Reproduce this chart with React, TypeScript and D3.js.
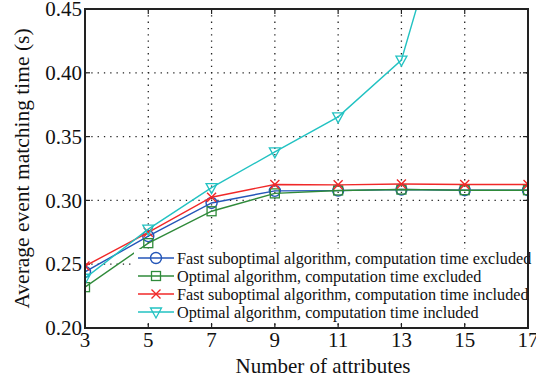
import * as d3 from "d3";

const attributes = [3, 5, 7, 9, 11, 13, 15, 17];
const fastExcluded = [0.244, 0.272, 0.298, 0.3075, 0.3077, 0.3085, 0.308, 0.308];
const optimalExcluded = [0.232, 0.2665, 0.2915, 0.3055, 0.3078, 0.3085, 0.308, 0.308];
const fastIncluded = [0.2485, 0.275, 0.3025, 0.3125, 0.3122, 0.3128, 0.3125, 0.3125];
const optimalIncluded = [0.239, 0.2775, 0.31, 0.338, 0.3655, 0.41, 0.58, 0.78];
const yTicks = [0.2, 0.25, 0.3, 0.35, 0.4, 0.45];
const seriesNames = [
  "Fast suboptimal algorithm, computation time excluded",
  "Optimal algorithm, computation time excluded",
  "Fast suboptimal algorithm, computation time included",
  "Optimal algorithm, computation time included",
];

type Marker = "circle" | "square" | "cross" | "triangle";

const series = [
  { name: seriesNames[0], values: fastExcluded, color: "#2456b8", marker: "circle" as Marker },
  { name: seriesNames[1], values: optimalExcluded, color: "#2f8a3a", marker: "square" as Marker },
  { name: seriesNames[2], values: fastIncluded, color: "#f02828", marker: "cross" as Marker },
  { name: seriesNames[3], values: optimalIncluded, color: "#22c2c2", marker: "triangle" as Marker },
];

const width = 536;
const height = 380;
const margin = { top: 9, right: 8, bottom: 52, left: 85 };
const innerWidth = width - margin.left - margin.right;
const innerHeight = height - margin.top - margin.bottom;
const serif = { fontFamily: '"Liberation Serif", "Times New Roman", serif' };

const MarkerShape = ({ kind, x, y, color }: { kind: Marker; x: number; y: number; color: string }) => {
  if (kind === "circle") {
    return <circle cx={x} cy={y} r={5.5} fill="none" stroke={color} strokeWidth={1.4} />;
  }
  if (kind === "square") {
    return <rect x={x - 4.5} y={y - 4.5} width={9} height={9} fill="none" stroke={color} strokeWidth={1.3} />;
  }
  if (kind === "cross") {
    return (
      <path d={`M${x - 4.5},${y - 4.5}L${x + 4.5},${y + 4.5}M${x - 4.5},${y + 4.5}L${x + 4.5},${y - 4.5}`} stroke={color} strokeWidth={1.4} />
    );
  }
  return (
    <path d={`M${x - 5.5},${y - 4}L${x + 5.5},${y - 4}L${x},${y + 6}Z`} fill="none" stroke={color} strokeWidth={1.3} />
  );
};

export default function App() {
  const x = d3.scaleLinear().domain([3, 17]).range([0, innerWidth]);
  const y = d3.scaleLinear().domain([0.2, 0.45]).range([innerHeight, 0]);
  const line = d3
    .line<number>()
    .x((_, i) => x(attributes[i]))
    .y((d) => y(d));

  const legendX = 134 - margin.left;
  const legendY = 249 - margin.top;
  const legendRowY = [258, 276, 294, 312].map((v) => v - margin.top);

  return (
    <svg
      width={width}
      height={height}
      style={{ position: "fixed", left: 0, top: 0, background: "#fff", ...serif }}
    >
      <defs>
        <clipPath id="plot-clip">
          <rect x={0} y={0} width={innerWidth} height={innerHeight} />
        </clipPath>
      </defs>
      <g transform={`translate(${margin.left},${margin.top})`}>
        {/* grid */}
        {attributes.slice(1, -1).map((t) => (
          <line key={`gx${t}`} x1={x(t)} x2={x(t)} y1={0} y2={innerHeight} stroke="#222" strokeWidth={1.3} strokeDasharray="1.3,5" />
        ))}
        {yTicks.slice(1, -1).map((t) => (
          <line key={`gy${t}`} x1={0} x2={innerWidth} y1={y(t)} y2={y(t)} stroke="#222" strokeWidth={1.3} strokeDasharray="1.3,5" />
        ))}
        {/* ticks on all four sides */}
        {attributes.map((t) => (
          <g key={`tx${t}`}>
            <line x1={x(t)} x2={x(t)} y1={innerHeight} y2={innerHeight - 5} stroke="#222" strokeWidth={1.2} />
            <line x1={x(t)} x2={x(t)} y1={0} y2={5} stroke="#222" strokeWidth={1.2} />
            <text x={x(t)} y={innerHeight + 19} textAnchor="middle" fontSize={21} fill="#111" style={serif}>
              {t}
            </text>
          </g>
        ))}
        {yTicks.map((t) => (
          <g key={`ty${t}`}>
            <line x1={0} x2={5} y1={y(t)} y2={y(t)} stroke="#222" strokeWidth={1.2} />
            <line x1={innerWidth} x2={innerWidth - 5} y1={y(t)} y2={y(t)} stroke="#222" strokeWidth={1.2} />
            <text x={-3} y={y(t)} dy="0.34em" textAnchor="end" fontSize={21} fill="#111" style={serif}>
              {t.toFixed(2)}
            </text>
          </g>
        ))}

        {/* series */}
        <g clipPath="url(#plot-clip)">
          {series.map((s) => (
            <g key={s.name}>
              <path d={line(s.values) ?? ""} fill="none" stroke={s.color} strokeWidth={1.4} />
              {s.values.map((v, i) => (
                <MarkerShape key={i} kind={s.marker} x={x(attributes[i])} y={y(v)} color={s.color} />
              ))}
            </g>
          ))}
        </g>

        {/* legend */}
        <rect x={legendX} y={legendY} width={innerWidth - legendX - 1} height={innerHeight - legendY - 5} fill="#fff" />
        {series.map((s, i) => (
          <g key={`lg${s.name}`}>
            <line x1={138 - margin.left} x2={174 - margin.left} y1={legendRowY[i]} y2={legendRowY[i]} stroke={s.color} strokeWidth={1.4} />
            <MarkerShape kind={s.marker} x={156 - margin.left} y={legendRowY[i]} color={s.color} />
            <text x={177 - margin.left} y={legendRowY[i]} dy="0.34em" fontSize={16.2} fill="#111" style={serif}>
              {s.name}
            </text>
          </g>
        ))}

        {/* axes box */}
        <rect x={0} y={0} width={innerWidth} height={innerHeight} fill="none" stroke="#222" strokeWidth={2} />
      </g>

      <text x={323} y={373} textAnchor="middle" fontSize={21} fill="#111" style={serif}>
        Number of attributes
      </text>
      <text transform={`translate(29,${margin.top + innerHeight / 2}) rotate(-90)`} textAnchor="middle" fontSize={21.5} fill="#111" style={serif}>
        Average event matching time (s)
      </text>
    </svg>
  );
}
